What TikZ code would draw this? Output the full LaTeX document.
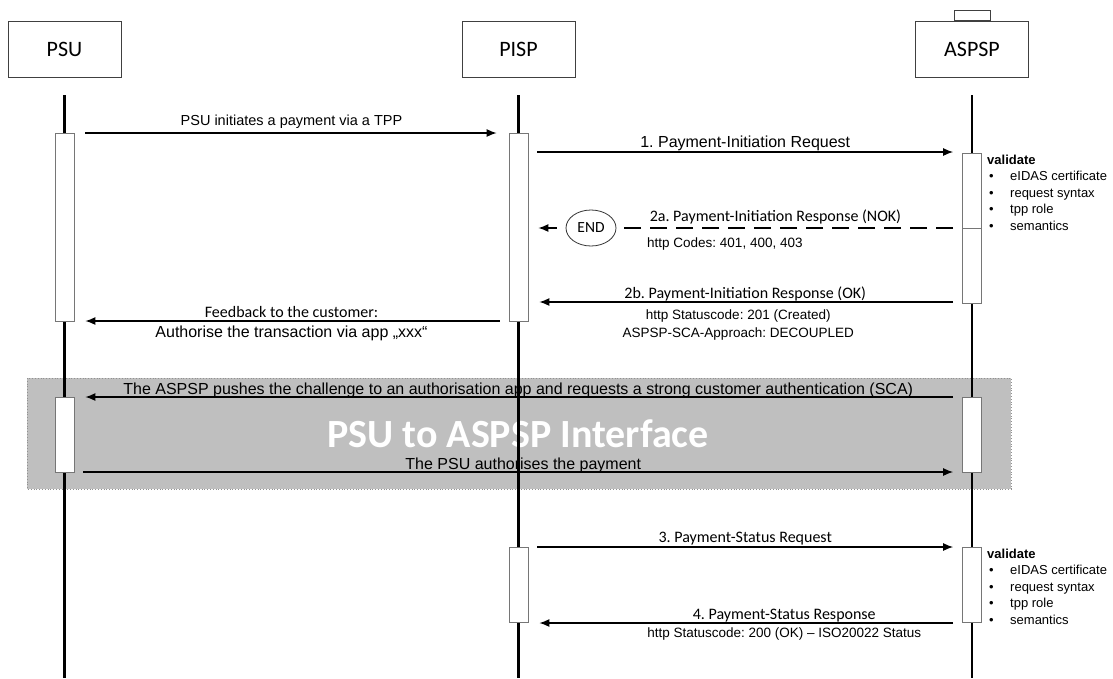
\documentclass[tikz,border=0pt]{standalone}
\usepackage{fontspec}
\setmainfont{Liberation Sans}
\newfontfamily\calfont{Carlito}
\usepackage{xcolor}
\usetikzlibrary{positioning,arrows.meta,shapes.geometric}
\frenchspacing

\definecolor{bandgray}{RGB}{191,191,191}
\definecolor{rimgray}{RGB}{118,118,118}

\newcommand{\validatelist}{%
  \textbf{validate}\\
  \hspace*{2pt}\makebox[21pt][l]{\textbullet}eIDAS certificate\\
  \hspace*{2pt}\makebox[21pt][l]{\textbullet}request syntax\\
  \hspace*{2pt}\makebox[21pt][l]{\textbullet}tpp role\\
  \hspace*{2pt}\makebox[21pt][l]{\textbullet}semantics}

\begin{document}
\begin{tikzpicture}[
  x=1pt, y=-1pt,
  party/.style={draw=black!75, line width=0.8pt, minimum width=113pt, minimum height=56pt,
    inner sep=0pt, font=\calfont\fontsize{22}{26}\selectfont},
  partytab/.style={draw=black!75, line width=0.8pt, minimum width=36pt, minimum height=10pt, inner sep=0pt},
  activ/.style={draw=rimgray, fill=white, line width=0.8pt, minimum width=19pt, inner sep=0pt},
  lifeline/.style={line width=2.4pt},
  arrow/.style={-{Latex[length=10pt,width=8pt]}, line width=1.2pt},
  dasharrow/.style={line width=1.2pt, dash pattern=on 17pt off 9pt},
  endstate/.style={ellipse, draw=black!80, line width=0.8pt, minimum width=50pt, minimum height=36pt,
    inner sep=0pt, font=\calfont\fontsize{15.5}{18}\selectfont},
  lbl/.style={inner sep=0pt, font=\fontsize{16}{19}\selectfont},
  lblc/.style={inner sep=0pt, font=\calfont\fontsize{16}{19}\selectfont},
  note/.style={inner sep=0pt, align=center, font=\fontsize{13.5}{18}\selectfont},
  vlist/.style={anchor=north west, inner sep=0pt, align=left, font=\fontsize{13}{16.5}\selectfont},
  bandtitle/.style={inner sep=0pt, text=white, font=\calfont\bfseries\fontsize{40}{44}\selectfont}
]
\useasboundingbox (0,0) rectangle (1113,678);

%% ── Column x-positions ───────────────────────────────────────────────
\def\xU{64.5}   % PSU
\def\xP{518.5}  % PISP
\def\xA{972}    % ASPSP

%% ── Message rows ─────────────────────────────────────────────────────
\coordinate (r0)   at (0,133);
\coordinate (r1)   at (0,152);
\coordinate (r2b)  at (0,302);
\coordinate (rfb)  at (0,321);
\coordinate (rsca) at (0,397);
\coordinate (rok)  at (0,472);
\coordinate (r3)   at (0,547);
\coordinate (r4)   at (0,623);

%% ── Party headers ────────────────────────────────────────────────────
\node[party] (PSU)   at (\xU,49) {PSU};
\node[party] (PISP)  at (\xP,49) {PISP};
\node[party] (ASPSP) at (\xA,49) {ASPSP};
\node[partytab, above=0pt of ASPSP] (ASPSPtab) {};

%% ── Interface band (under the timelines) ─────────────────────────────
\fill[bandgray] (27,378) rectangle (1011,489);
\draw[rimgray!80, dotted, line width=0.8pt] (27,378) rectangle (1011,489);
\node[bandtitle] (BT) at (518,434) {PSU to ASPSP Interface};

%% ── Vertical timelines ───────────────────────────────────────────────
\draw[lifeline] ([yshift=-18pt]PSU.south)   -- (PSU.south |- 0,678);
\draw[lifeline] ([yshift=-18pt]PISP.south)  -- (PISP.south |- 0,678);
\draw[lifeline] ([yshift=-18pt]ASPSP.south) -- (ASPSP.south |- 0,678);

%% ── Activation bars ──────────────────────────────────────────────────
\node[activ, minimum height=188pt] (PSUa)   at (\xU,227)   {};
\node[activ, minimum height=188pt] (PISPa)  at (\xP,227)   {};
\node[activ, minimum height=150pt] (ASPSPa) at (\xA,228)   {};
\node[activ, minimum height=75pt]  (PSUb)   at (\xU,434.5) {};
\node[activ, minimum height=75pt]  (ASPSPb) at (\xA,434.5) {};
\node[activ, minimum height=75pt]  (PISPc)  at (\xP,584.5) {};
\node[activ, minimum height=75pt]  (ASPSPc) at (\xA,584.5) {};

%% ── PSU → PISP: start ────────────────────────────────────────────────
\draw[arrow, shorten <=11pt, shorten >=12pt] (PSUa.east |- r0) -- (PISPa.west |- r0)
    node[lbl, midway, above=4pt, font=\fontsize{14.5}{17}\selectfont] (m0) {PSU initiates a payment via a TPP};

%% ── Step 1: PISP → ASPSP ─────────────────────────────────────────────
\draw[arrow, shorten <=9pt, shorten >=9pt] (PISPa.east |- r1) -- (ASPSPa.west |- r1)
    node[lbl, midway, above=1pt] (m1) {1. Payment-Initiation Request};
\node[vlist] (val1) at (987,154.5) {\validatelist};

%% ── Step 2a: rejected (dashed, END) ──────────────────────────────────
\node[endstate] (END) at (591,228) {END};
\draw[rimgray, line width=0.8pt] (ASPSPa.west |- END) -- (ASPSPa.east |- END);
\draw[dasharrow, shorten <=9pt, shorten >=5pt] (ASPSPa.west |- END) -- (END.east)
    node[lblc, pos=0.54, above=3pt] (m2a) {2a. Payment-Initiation Response (NOK)};
\draw[arrow, shorten <=9pt, shorten >=10pt] (END.west) -- (PISPa.east |- END);
\node[note, anchor=base west] (codes) at (647,247) {http Codes: 401, 400, 403};

%% ── Step 2b: accepted ────────────────────────────────────────────────
\draw[arrow, shorten <=9pt, shorten >=11pt] (ASPSPa.west |- r2b) -- (PISPa.east |- r2b)
    node[lblc, midway, above=0pt] (m2b) {2b. Payment-Initiation Response (OK)}
    node[note, midway, below=7pt, xshift=-7pt] (m2bx) {http Statuscode: 201 (Created)\\ASPSP-SCA-Approach: DECOUPLED};

%% ── PISP → PSU: feedback ─────────────────────────────────────────────
\draw[arrow, shorten <=9pt, shorten >=11pt] (PISPa.west |- rfb) -- (PSUa.east |- rfb)
    node[lblc, midway, above=3pt] (fb) {Feedback to the customer:}
    node[lbl, midway, below=4.5pt] (fbx) {Authorise the transaction via app „xxx“};

%% ── PSU to ASPSP interface ───────────────────────────────────────────
\draw[arrow, shorten <=9pt, shorten >=11pt] (ASPSPb.west |- rsca) -- (PSUb.east |- rsca)
    node[lbl, midway, above=-1pt] (sca) {The ASPSP pushes the challenge to an authorisation app and requests a strong customer authentication (SCA)};
\draw[arrow, shorten <=9pt, shorten >=9pt] (PSUb.east |- rok) -- (ASPSPb.west |- rok)
    node[lbl, midway, above=-1.5pt, xshift=5pt] (ok) {The PSU authorises the payment};

%% ── Step 3: status request ───────────────────────────────────────────
\draw[arrow, shorten <=9pt, shorten >=9pt] (PISPc.east |- r3) -- (ASPSPc.west |- r3)
    node[lblc, midway, above=1pt] (m3) {3. Payment-Status Request};
\node[vlist] (val2) at (987,548.5) {\validatelist};

%% ── Step 4: status response ──────────────────────────────────────────
\draw[arrow, shorten <=9pt, shorten >=11pt] (ASPSPc.west |- r4) -- (PISPc.east |- r4)
    node[lblc, pos=0.41, above=0pt] (m4) {4. Payment-Status Response}
    node[note, pos=0.41, below=4pt] (m4x) {http Statuscode: 200 (OK) – ISO20022 Status};

\end{tikzpicture}
\end{document}
